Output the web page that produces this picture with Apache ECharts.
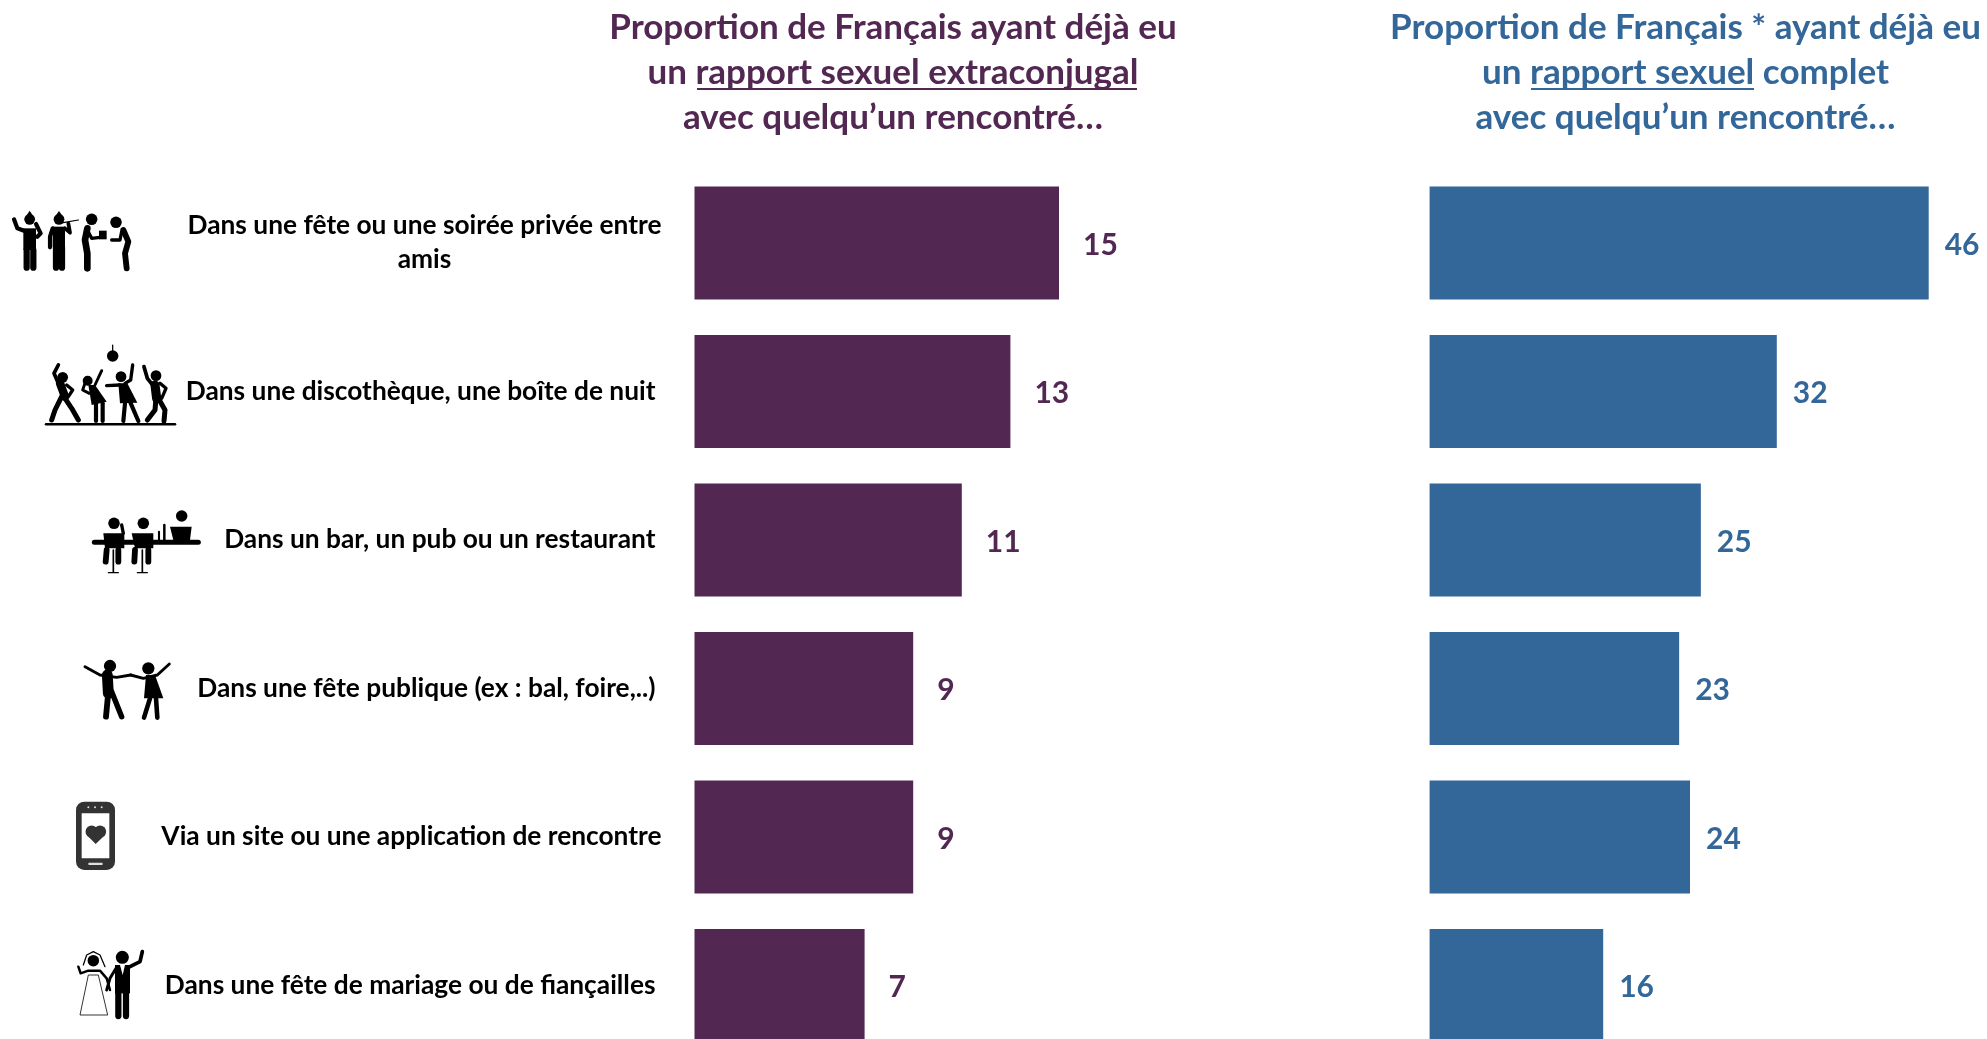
<!DOCTYPE html>
<html><head><meta charset="utf-8">
<style>html,body{margin:0;padding:0;background:#fff}#c{width:1987px;height:1039px}</style>
<script src="https://cdn.jsdelivr.net/npm/echarts@6/dist/echarts.min.js"></script>
</head><body><div id="c"></div>
<script>
const categories = [
  "Dans une fête ou une soirée privée entre\namis",
  "Dans une discothèque, une boîte de nuit",
  "Dans un bar, un pub ou un restaurant",
  "Dans une fête publique (ex : bal, foire,..)",
  "Via un site ou une application de rencontre",
  "Dans une fête de mariage ou de fiançailles"
];
const extraconjugal = [15, 13, 11, 9, 9, 7];
const complet = [46, 32, 25, 23, 24, 16];
const titleLeft = "Proportion de Français ayant déjà eu\nun rapport sexuel extraconjugal\navec quelqu’un rencontré…";
const titleRight = "Proportion de Français * ayant déjà eu\nun rapport sexuel complet\navec quelqu’un rencontré…";

const PURPLE = '#522852', BLUE = '#336699', FONT = 'Lato';

// Pictograms: shapes in crop pixels, placed from an origin at 1/3 scale.
const icons = [
 {o:[0,200], s:[
  ['c',89,58,14],['p',[[80,46],[89,32],[98,46]]],['p',[[70,85],[108,85],[108,150],[70,150]]],
  ['l',[[80,150],[80,203]],15],['l',[[100,150],[100,203]],15],['l',[[42,58],[52,85],[72,92]],10],['l',[[108,72],[122,100],[112,110]],10],
  ['c',177,58,14],['p',[[168,46],[177,33],[186,46]]],['p',[[158,80],[195,80],[195,140],[158,140]]],
  ['l',[[168,140],[168,203]],15],['l',[[186,140],[186,203]],15],['l',[[158,85],[150,110],[150,142]],10],['l',[[195,85],[210,98],[205,70]],9],['l',[[190,68],[235,60]],3],
  ['c',275,58,15],['l',[[262,85],[255,120],[262,160],[262,205]],16],['l',[[262,90],[275,115],[300,112]],8],['p',[[297,92],[320,92],[320,118],[297,118]]],
  ['c',348,67,15],['l',[[370,90],[385,125],[375,160],[380,205]],14],['l',[[365,95],[360,120],[335,120]],8]
 ]},
 {o:[40,340], s:[
  ['l',[[18,253],[405,253]],6],['c',218,48,15],['l',[[218,15],[218,33]],3],
  ['c',68,112,14],['l',[[55,75],[42,100],[55,130]],9],['l',[[60,130],[75,170]],20],['l',[[80,135],[98,150],[85,170]],8],['l',[[65,170],[45,210],[35,240]],12],['l',[[75,175],[95,205],[115,240]],12],
  ['c',143,122,13],['l',[[185,92],[165,135]],7],['p',[[145,135],[165,135],[200,185],[155,195]]],['l',[[168,190],[168,243]],10],['l',[[188,190],[188,243]],10],['l',[[135,130],[128,150],[148,160]],7],
  ['c',243,110,14],['l',[[278,75],[272,120],[255,130]],8],['l',[[200,137],[240,135]],8],['p',[[235,130],[262,130],[292,188],[240,190]]],['l',[[255,190],[250,243]],10],['l',[[270,185],[295,243]],10],
  ['c',348,107,14],['l',[[312,80],[322,115],[338,135]],9],['l',[[360,130],[378,145],[365,175]],8],['l',[[345,135],[350,175]],22],['l',[[348,175],[345,210],[322,240]],12],['l',[[355,175],[375,210],[372,243]],12]
 ]},
 {o:[85,500], s:[
  ['l',[[28,127],[340,127]],12],
  ['c',87,70,15],['p',[[55,100],[118,100],[118,145],[60,145]]],['l',[[115,100],[110,75]],8],['l',[[65,150],[62,185]],14],['l',[[100,150],[100,185]],14],['l',[[85,150],[85,215]],4],['l',[[70,218],[100,218]],3],
  ['c',175,70,15],['p',[[140,100],[205,100],[205,145],[150,145]]],['l',[[150,150],[148,185]],14],['l',[[190,150],[190,185]],14],['l',[[172,150],[172,215]],4],['l',[[157,218],[187,218]],3],
  ['c',290,48,15],['p',[[255,80],[320,80],[315,120],[265,120]]],['l',[[238,75],[238,120]],6],['l',[[222,95],[222,120]],5]
 ]},
 {o:[70,650], s:[
  ['c',120,48,16],['l',[[45,50],[90,75],[140,82],[182,75]],7],['l',[[112,75],[115,130]],26],['l',[[115,125],[108,200]],14],['l',[[125,125],[155,200]],13],
  ['c',235,55,16],['l',[[182,75],[220,85],[262,75],[298,42]],7],['p',[[228,75],[255,75],[280,145],[222,145]]],['l',[[240,145],[222,203]],11],['l',[[258,145],[262,203]],11]
 ]},
 {o:[60,790], s:[
  ['r',48,35,117,205,25,'#333'],['r',65,70,83,135,0,'#fff'],
  ['c',95,125,16,'#333'],['c',120,125,16,'#333'],['p',[[80,135],[135,135],[107,162]],'#333'],
  ['c',85,52,3,'#ddd'],['c',105,52,3,'#ddd'],['c',125,52,3,'#ddd'],['r',85,218,43,7,2,'#ddd']
 ]},
 {o:[60,940], s:[
  ['l',[[70,75],[80,45],[100,35],[120,45],[135,80]],3],
  ['d',[[85,105],[115,105],[143,225],[60,225]]],
  ['c',100,62,15],['l',[[55,80],[62,100],[85,92],[120,92],[140,115],[150,150]],6],
  ['c',187,52,17],['p',[[165,75],[210,75],[210,160],[165,160]]],['l',[[175,160],[175,228]],15],['l',[[198,160],[198,228]],15],
  ['l',[[210,80],[240,65],[247,35]],9],['l',[[168,85],[150,115],[140,150]],7],['p',[[180,75],[195,75],[188,105]],'#fff']
 ]}
];
function iconGraphics(){
  const out=[];
  icons.forEach(ic=>{
    const pt=p=>[ic.o[0]+p[0]/3, ic.o[1]+p[1]/3];
    ic.s.forEach(a=>{
      const t=a[0];
      if(t==='c') out.push({type:'circle',shape:{cx:ic.o[0]+a[1]/3,cy:ic.o[1]+a[2]/3,r:a[3]/3*(a[3]>5?1.15:1)},style:{fill:a[4]||'#000'}});
      if(t==='p') out.push({type:'polygon',shape:{points:a[1].map(pt)},style:{fill:a[2]||'#000'}});
      if(t==='d') out.push({type:'polygon',shape:{points:a[1].map(pt)},style:{fill:'#fff',stroke:'#000',lineWidth:0.8}});
      if(t==='l') out.push({type:'polyline',shape:{points:a[1].map(pt)},style:{fill:null,stroke:'#000',lineWidth:a[2]/3*1.25,lineCap:'round',lineJoin:'round'}});
      if(t==='r') out.push({type:'rect',shape:{x:ic.o[0]+a[1]/3,y:ic.o[1]+a[2]/3,width:a[3]/3,height:a[4]/3,r:a[5]/3},style:{fill:a[6]}});
    });
  });
  return out;
}

const chart = echarts.init(document.getElementById('c'));
const labelBase = {fontFamily:FONT,fontWeight:700,fontSize:26.3,color:'#000',lineHeight:34};
chart.setOption({
  animation:false,
  backgroundColor:'#fff',
  title:[
    {text:titleLeft,left:888,top:0,textAlign:'center',textStyle:{fontFamily:FONT,fontWeight:700,fontSize:35,lineHeight:45,color:PURPLE}},
    {text:titleRight,left:1680.5,top:0,textAlign:'center',textStyle:{fontFamily:FONT,fontWeight:700,fontSize:35,lineHeight:45,color:BLUE}}
  ],
  grid:[
    {left:694.5,top:168.75,width:486,height:891,outerBoundsMode:'none'},
    {left:1429.6,top:168.75,width:542.5,height:891,outerBoundsMode:'none'}
  ],
  xAxis:[
    {gridIndex:0,type:'value',min:0,max:20,show:false},
    {gridIndex:1,type:'value',min:0,max:50,show:false}
  ],
  yAxis:[
    {gridIndex:0,type:'category',inverse:true,data:categories,
     axisLine:{show:false},axisTick:{show:false},splitLine:{show:false},
     axisLabel:{margin:33,interval:0,
       formatter:(v,i)=>i===0? v.split('\n').map(s=>'{w|'+s+'}').join('\n') : ((i===4)?'{e|'+v+'}':'{n|'+v+'}'),
       rich:{w:{...labelBase,width:474,align:'center'},e:{...labelBase},n:{...labelBase,padding:[0,6,0,0]}}}},
    {gridIndex:1,type:'category',inverse:true,data:categories,show:false}
  ],
  series:[
    {type:'bar',name:'Extraconjugal',xAxisIndex:0,yAxisIndex:0,data:extraconjugal,barWidth:113,itemStyle:{color:PURPLE},
     label:{show:true,position:'right',distance:24,offset:[0,2],fontFamily:FONT,fontWeight:700,fontSize:30,color:PURPLE}},
    {type:'bar',name:'Complet',xAxisIndex:1,yAxisIndex:1,data:complet,barWidth:113,itemStyle:{color:BLUE},
     label:{show:true,position:'right',distance:16,offset:[0,2],fontFamily:FONT,fontWeight:700,fontSize:30,color:BLUE}}
  ],
  graphic:[
    {type:'rect',shape:{x:697,y:88,width:440,height:2},style:{fill:PURPLE}},
    {type:'rect',shape:{x:1531,y:88,width:223,height:2},style:{fill:BLUE}},
    ...iconGraphics()
  ]
});
</script></body></html>
